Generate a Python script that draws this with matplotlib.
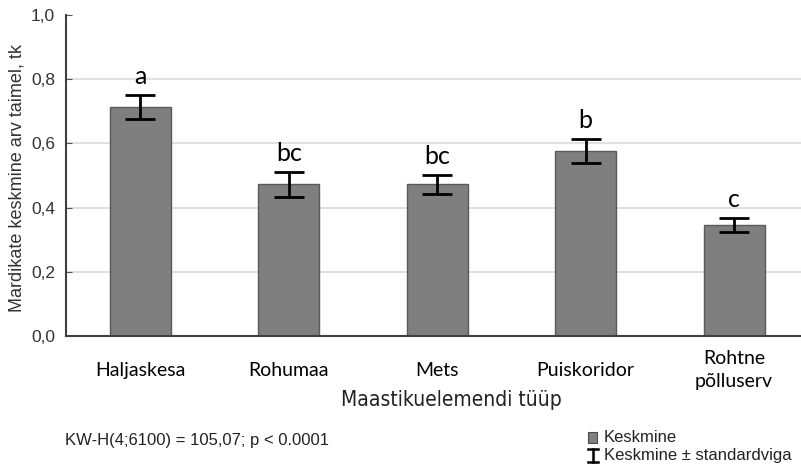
import matplotlib.pyplot as plt
from matplotlib.patches import Rectangle
from matplotlib.lines import Line2D

categories = ["Haljaskesa", "Rohumaa", "Mets", "Puiskoridor", "Rohtne\npõlluserv"]
means = [0.714, 0.472, 0.472, 0.576, 0.345]
se = [0.037, 0.038, 0.031, 0.038, 0.022]
letters = ["a", "bc", "bc", "b", "c"]
yticks = [0.0, 0.2, 0.4, 0.6, 0.8, 1.0]

fig = plt.figure(figsize=(8.01, 4.65), dpi=100)
ax = fig.add_axes([66 / 801, 129 / 465, 735 / 801, 321 / 465])

x = list(range(len(categories)))
ax.bar(x, means, width=0.41, color="#7f7f7f", edgecolor="#5a5a5a", linewidth=1, zorder=2)
ax.errorbar(x, means, yerr=se, fmt="none", ecolor="black", elinewidth=2,
            capsize=11, capthick=2, zorder=3)

for xi, m, s, lab in zip(x, means, se, letters):
    ax.annotate(lab, (xi, m + s), xytext=(0, 5), textcoords="offset points",
                ha="center", va="bottom", fontsize=18, family="Lato")

ax.set_xlim(-0.5, 4.45)
ax.set_ylim(0, 1.0)
ax.set_yticks(yticks)
ax.set_yticklabels([f"{v:.1f}".replace(".", ",") for v in yticks],
                   fontsize=12.5, family="Liberation Sans", color="#333333")
ax.set_xticks(x)
ax.set_xticklabels(categories, fontsize=14, family="Lato", linespacing=1.4)
for t in ax.get_xticklabels():
    t.set_va("center")
ax.tick_params(axis="x", direction="in", length=3, pad=24.5, color="#555555")
ax.tick_params(axis="y", direction="in", length=4, pad=8, color="#555555")

ax.yaxis.grid(True, color="#dcdcdc", linewidth=1.2, zorder=0)
ax.yaxis.get_gridlines()[-1].set_visible(False)
ax.set_axisbelow(True)
for side in ["top", "right"]:
    ax.spines[side].set_visible(False)
for side in ["left", "bottom"]:
    ax.spines[side].set_color("#404040")
    ax.spines[side].set_linewidth(1.5)

fig.text(17 / 801, 1 - 178 / 465, "Mardikate keskmine arv taimel, tk", rotation=90,
         ha="center", va="center", fontsize=13, family="Liberation Sans", color="#333333")

fig.text(451 / 801, 1 - 400 / 465, "Maastikuelemendi tüüp", ha="center", va="center",
         fontsize=15, family=["Liberation Sans Narrow", "DejaVu Sans"], stretch="condensed",
         color="#222222")

fig.text(65 / 801, 1 - 440 / 465, "KW-H(4;6100) = 105,07; p < 0.0001", ha="left",
         va="center", fontsize=12, family="Liberation Sans", color="#222222")

# legend
fig.patches.append(Rectangle((588 / 801, 1 - 443 / 465), 9 / 801, 11 / 465,
                             transform=fig.transFigure, facecolor="#7f7f7f",
                             edgecolor="#4a4a4a", linewidth=0.8))
fig.text(604 / 801, 1 - 437 / 465, "Keskmine", ha="left", va="center",
         fontsize=12, family="Liberation Sans", color="#222222")
ix, iy0, iy1 = 593 / 801, 1 - 462 / 465, 1 - 449 / 465
fig.lines.append(Line2D([ix, ix], [iy0, iy1], transform=fig.transFigure, color="black", lw=1.8))
fig.lines.append(Line2D([ix - 5 / 801, ix + 5 / 801], [iy0, iy0], transform=fig.transFigure, color="black", lw=1.8))
fig.lines.append(Line2D([ix - 5 / 801, ix + 5 / 801], [iy1, iy1], transform=fig.transFigure, color="black", lw=1.8))
fig.text(604 / 801, 1 - 455 / 465, "Keskmine ± standardviga", ha="left", va="center",
         fontsize=12, family="Liberation Sans", color="#222222")

fig.savefig("out.png", dpi=100)
